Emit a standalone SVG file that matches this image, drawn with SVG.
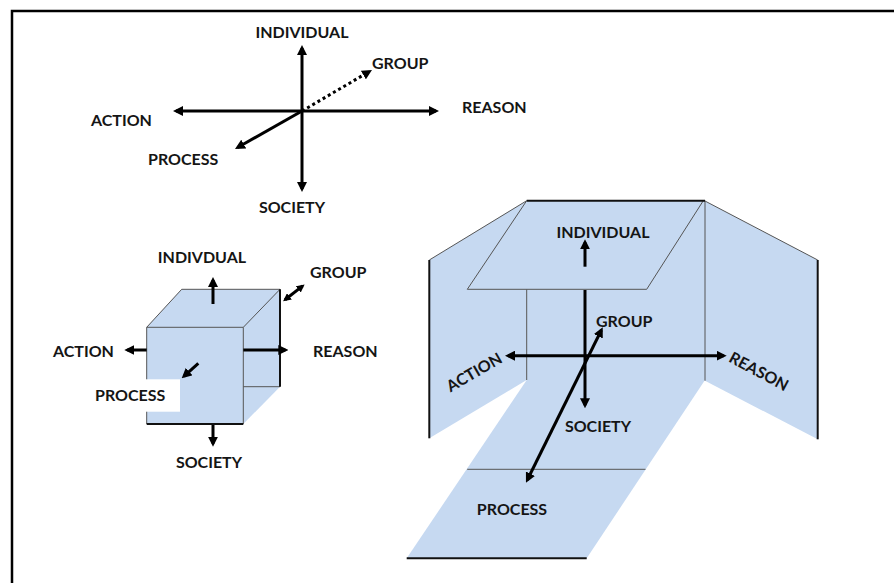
<svg xmlns="http://www.w3.org/2000/svg" width="894" height="583" viewBox="0 0 894 583">
<style>
text{font-family:Lato,"Open Sans","Liberation Sans",sans-serif;font-weight:bold;font-size:16px;fill:#151515}
.ax{stroke:#000;stroke-width:3;fill:none}
.face{fill:#c6d9f1;stroke:none}
.edge{stroke:#555;stroke-width:1;fill:none}
.dark{stroke:#111;stroke-width:2;fill:none}
</style>
<defs>
<marker id="ah" viewBox="0 0 10 10" refX="7" refY="5" markerWidth="10" markerHeight="10" markerUnits="userSpaceOnUse" orient="auto-start-reverse"><path d="M0,0 L10,5 L0,10 z" fill="#000"/></marker>
<marker id="ahs" viewBox="0 0 10 10" refX="7" refY="5" markerWidth="8" markerHeight="8" markerUnits="userSpaceOnUse" orient="auto-start-reverse"><path d="M0,0 L10,5 L0,10 z" fill="#000"/></marker>
</defs>
<rect width="894" height="583" fill="#fff"/>
<g id="frame"><path d="M12,583 L12,11 L894,11" stroke="#000" stroke-width="2.5" fill="none"/></g>

<g id="cube">
<polygon class="face" points="146.7,327.3 181.7,289.3 280,289.3 280,386.7 243.3,424 146.7,424"/>
<path class="edge" d="M146.7,327.3 L181.7,289.3 L280,289.3 M146.7,327.3 L243.3,327.3 L280,289.3 M243.3,327.3 L243.3,424 M243.3,386.7 L280,386.7 M146.7,327.3 L146.7,424"/>
<path class="dark" d="M280,289.3 L280,386.7 M146.7,424 L243.3,424"/>
<rect x="88" y="379.3" width="92" height="32.4" fill="#fff"/>
</g>

<g id="right-planes">
<polygon class="face" points="526.7,200.7 429.3,260 429.3,438.3 526.7,380"/>
<path class="edge" d="M526.7,200.7 L429.3,260"/>
<path class="dark" d="M429.3,260 L429.3,438.3" stroke-width="1.5"/>
<polygon class="face" points="705,201 817.7,260 817.7,439.3 705,380.7"/>
<path class="edge" d="M705,201 L817.7,260"/>
<path class="dark" d="M817.7,260 L817.7,439.3" stroke-width="1.5"/>
<polygon class="face" points="526.7,380 705,380 586.7,558.3 406.7,558.3"/>
<path class="edge" d="M467.2,469.3 L645.5,469.3"/>
<path class="dark" d="M406.7,558.3 L586.7,558.3" stroke-width="1.5"/>
<rect class="face" x="526.7" y="200.7" width="178.3" height="179.3"/>
<path class="edge" d="M526.7,289.3 L526.7,380 M705,200.7 L705,380.7"/>
<polygon class="face" points="526.7,200.7 703.3,200.7 646.7,289.3 467.3,289.3"/>
<path class="edge" d="M703.3,200.7 L646.7,289.3 L467.3,289.3 L526.7,200.7"/>
<path class="dark" d="M526.7,200.7 L705,200.7" stroke-width="1.5"/>
</g>

<g id="connectors">
<line class="ax" x1="302" y1="48" x2="302" y2="189" marker-start="url(#ah)" marker-end="url(#ah)"/>
<line class="ax" x1="176" y1="111" x2="436" y2="111" marker-start="url(#ah)" marker-end="url(#ah)"/>
<line class="ax" x1="302" y1="111" x2="369.4" y2="71.5" stroke-dasharray="3 3" marker-end="url(#ah)"/>
<line class="ax" x1="302" y1="111" x2="237.6" y2="147.5" marker-end="url(#ah)"/>

<line class="ax" x1="213" y1="304" x2="213" y2="280" marker-end="url(#ah)"/>
<line class="ax" x1="146.7" y1="350" x2="127.3" y2="350" marker-end="url(#ah)"/>
<line class="ax" x1="243.3" y1="350" x2="285.3" y2="350" marker-end="url(#ah)"/>
<line class="ax" x1="198.3" y1="363.3" x2="183.9" y2="376.3" marker-end="url(#ah)"/>
<line class="ax" x1="213" y1="425" x2="213" y2="443.7" marker-end="url(#ah)"/>
<line class="ax" x1="285" y1="299.8" x2="302.7" y2="285.9" stroke-width="2.5" marker-start="url(#ahs)" marker-end="url(#ahs)"/>

<line class="ax" x1="585" y1="266.7" x2="585" y2="242.3" marker-end="url(#ah)"/>
<line class="ax" x1="585" y1="290" x2="585" y2="405.3" marker-end="url(#ah)"/>
<line class="ax" x1="508" y1="355.7" x2="723.7" y2="355.7" marker-start="url(#ah)" marker-end="url(#ah)"/>
<line class="ax" x1="527.3" y1="480" x2="601.4" y2="330" marker-start="url(#ah)" marker-end="url(#ah)"/>
</g>

<g id="labels-top">
<text x="302" y="38" text-anchor="middle">INDIVIDUAL</text>
<text x="372" y="69">GROUP</text>
<text x="462" y="112.5">REASON</text>
<text x="91" y="126">ACTION</text>
<text x="148" y="165">PROCESS</text>
<text x="292" y="213" text-anchor="middle">SOCIETY</text>
</g>
<g id="labels-cube">
<text x="202" y="263" text-anchor="middle">INDIVDUAL</text>
<text x="310" y="278">GROUP</text>
<text x="53" y="357">ACTION</text>
<text x="313" y="357">REASON</text>
<text x="95" y="401">PROCESS</text>
<text x="209" y="468" text-anchor="middle">SOCIETY</text>
</g>
<g id="labels-right">
<text x="603" y="238" text-anchor="middle">INDIVIDUAL</text>
<text x="596" y="327">GROUP</text>
<text x="598" y="432" text-anchor="middle">SOCIETY</text>
<text x="512" y="515" text-anchor="middle">PROCESS</text>
<text transform="translate(474,372) rotate(-30)" x="0" y="6" text-anchor="middle">ACTION</text>
<text transform="translate(759,371) rotate(28)" x="0" y="6" text-anchor="middle">REASON</text>
</g>
</svg>
